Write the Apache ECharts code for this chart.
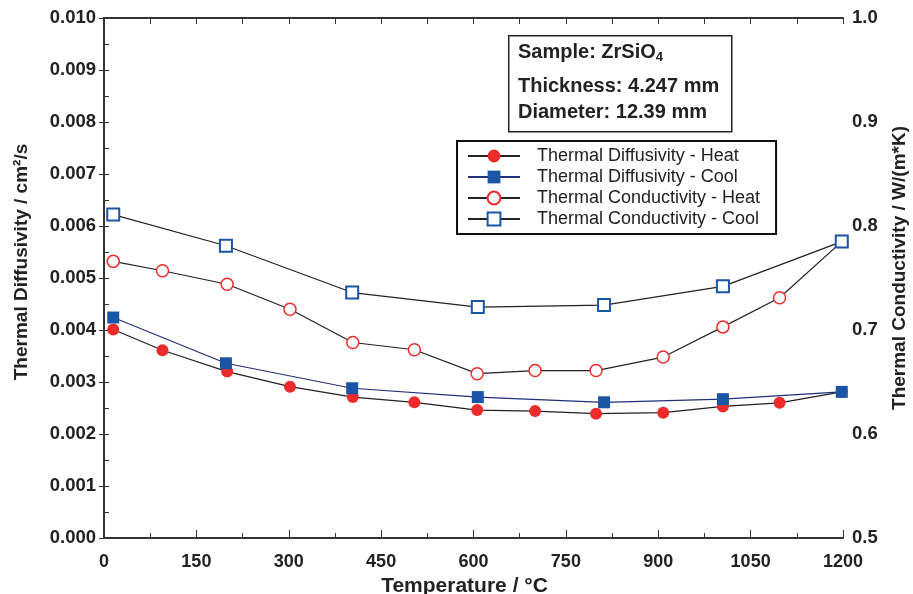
<!DOCTYPE html>
<html>
<head>
<meta charset="utf-8">
<script src="https://cdn.jsdelivr.net/npm/echarts@6.0.0/dist/echarts.min.js"></script>
<style>
  html, body { margin: 0; padding: 0; background: #fff; }
  #chart { width: 913px; height: 594px; }
</style>
</head>
<body>
<div id="chart"></div>
<script>
// heating run: temperature (°C), diffusivity (cm²/s), conductivity (W/(m*K))
const heatTemps = [15, 95, 200, 302, 404, 504, 606, 700, 799, 908, 1005, 1097, 1198]
const diffHeat = [0.00401, 0.00361, 0.00320, 0.00291, 0.00271, 0.00261, 0.00246, 0.00244, 0.00239, 0.00241, 0.00253, 0.00260, 0.00281]
const condHeat = [0.766, 0.757, 0.744, 0.720, 0.688, 0.681, 0.658, 0.661, 0.661, 0.674, 0.703, 0.731, 0.785]

// cooling run
const coolTemps = [15, 198, 403, 607, 812, 1005, 1198]
const diffCool = [0.00424, 0.00336, 0.00288, 0.00271, 0.00261, 0.00267, 0.00281]
const condCool = [0.811, 0.781, 0.736, 0.722, 0.724, 0.742, 0.785]

const seriesNames = [
  'Thermal Diffusivity - Heat',
  'Thermal Diffusivity - Cool',
  'Thermal Conductivity - Heat',
  'Thermal Conductivity - Cool'
]
const infoLines = ['Sample: ZrSiO', 'Thickness: 4.247 mm', 'Diameter: 12.39 mm']

const pairs = (xs, ys) => xs.map((x, i) => [x, ys[i]])

const FONT = '"Liberation Sans", Arial, sans-serif'
const AXIS = '#333'
const RED = '#ee2b2b'
const BLUE = '#1a55a6'

const chart = echarts.init(document.getElementById('chart'))

const axisLine = { show: true, lineStyle: { color: AXIS, width: 2 } }
const tickStyle = { color: AXIS, width: 1 }
const boldText = { fontFamily: FONT, fontWeight: 'bold', color: '#222' }

const option = {
  animation: false,
  backgroundColor: '#fff',
  grid: { left: 104, right: 70, top: 18, bottom: 56, containLabel: false, outerBoundsMode: 'none' },
  legend: {
    orient: 'vertical',
    left: 457,
    top: 141,
    data: seriesNames,
    borderColor: '#111',
    borderWidth: 2,
    padding: [6, 16, 6, 10],
    itemWidth: 52,
    itemHeight: 16,
    itemGap: 3,
    textStyle: {
      fontFamily: FONT,
      fontSize: 18,
      lineHeight: 16,
      color: '#222',
      padding: [0, 0, 0, 12]
    }
  },
  xAxis: [
    {
      type: 'value',
      position: 'bottom',
      min: 0,
      max: 1200,
      interval: 150,
      name: 'Temperature / °C',
      nameLocation: 'middle',
      nameGap: 34,
      nameTextStyle: Object.assign({ fontSize: 21, padding: [0, 18, 0, 0] }, boldText),
      axisLine: axisLine,
      axisTick: { show: true, inside: true, length: 8, lineStyle: tickStyle },
      minorTick: { show: true, splitNumber: 2, length: 5, lineStyle: tickStyle },
      splitLine: { show: false },
      axisLabel: Object.assign({ fontSize: 18, margin: 15, formatter: v => String(v) }, boldText)
    },
    {
      type: 'value',
      position: 'top',
      min: 0,
      max: 1200,
      interval: 75,
      axisLine: axisLine,
      axisTick: { show: true, inside: true, length: 6, lineStyle: tickStyle },
      axisLabel: { show: false },
      splitLine: { show: false }
    }
  ],
  yAxis: [
    {
      type: 'value',
      position: 'left',
      min: 0,
      max: 0.01,
      interval: 0.001,
      name: 'Thermal Diffusivity / cm²/s',
      nameLocation: 'middle',
      nameRotate: 90,
      nameGap: 73,
      nameTextStyle: Object.assign({ fontSize: 19, padding: [0, 0, 0, 32] }, boldText),
      axisLine: axisLine,
      axisTick: { show: true, inside: true, length: 5, lineStyle: tickStyle },
      minorTick: { show: true, splitNumber: 2, length: 5, lineStyle: tickStyle },
      splitLine: { show: false },
      axisLabel: Object.assign({ fontSize: 18.5, margin: 8, formatter: v => v.toFixed(3) }, boldText)
    },
    {
      type: 'value',
      position: 'right',
      min: 0.5,
      max: 1.0,
      interval: 0.1,
      name: 'Thermal Conductivity / W/(m*K)',
      nameLocation: 'middle',
      nameRotate: 90,
      nameGap: 47,
      nameTextStyle: Object.assign({ fontSize: 19, padding: [0, 0, 0, 20] }, boldText),
      axisLine: axisLine,
      axisTick: { show: true, inside: true, length: 5, lineStyle: tickStyle },
      minorTick: { show: true, splitNumber: 2, length: 5, lineStyle: tickStyle },
      splitLine: { show: false },
      axisLabel: Object.assign({ fontSize: 18.5, margin: 9, formatter: v => v.toFixed(1) }, boldText)
    }
  ],
  graphic: [
    {
      type: 'rect',
      left: 508,
      top: 35,
      shape: { width: 223, height: 96 },
      style: { fill: '#fff', stroke: '#222', lineWidth: 1.5 },
      z: 10
    },
    {
      type: 'text',
      x: 518,
      y: 52,
      z: 11,
      style: {
        text: '{b|' + infoLines[0] + '}{s|4}',
        verticalAlign: 'middle',
        rich: {
          b: { fontFamily: FONT, fontSize: 20, fontWeight: 'bold', fill: '#222' },
          s: { fontFamily: FONT, fontSize: 13, fontWeight: 'bold', fill: '#222', padding: [11, 0, 0, 0] }
        }
      }
    },
    {
      type: 'text',
      x: 518,
      y: 86,
      z: 11,
      style: { text: infoLines[1], verticalAlign: 'middle', fontFamily: FONT, fontSize: 20, fontWeight: 'bold', fill: '#222' }
    },
    {
      type: 'text',
      x: 518,
      y: 112,
      z: 11,
      style: { text: infoLines[2], verticalAlign: 'middle', fontFamily: FONT, fontSize: 20, fontWeight: 'bold', fill: '#222' }
    }
  ],
  series: [
    {
      name: seriesNames[0],
      type: 'line',
      xAxisIndex: 0,
      yAxisIndex: 0,
      data: pairs(heatTemps, diffHeat),
      symbol: 'circle',
      symbolSize: 12,
      itemStyle: { color: RED },
      lineStyle: { color: '#222', width: 1.2 },
      z: 4
    },
    {
      name: seriesNames[1],
      type: 'line',
      xAxisIndex: 0,
      yAxisIndex: 0,
      data: pairs(coolTemps, diffCool),
      symbol: 'rect',
      symbolSize: 12,
      itemStyle: { color: BLUE },
      lineStyle: { color: '#1f2f7a', width: 1.2 },
      z: 5
    },
    {
      name: seriesNames[2],
      type: 'line',
      xAxisIndex: 0,
      yAxisIndex: 1,
      data: pairs(heatTemps, condHeat),
      symbol: 'circle',
      symbolSize: 12,
      itemStyle: { color: '#fff', borderColor: RED, borderWidth: 1.5 },
      lineStyle: { color: '#222', width: 1.2 },
      z: 4
    },
    {
      name: seriesNames[3],
      type: 'line',
      xAxisIndex: 0,
      yAxisIndex: 1,
      data: pairs(coolTemps, condCool),
      symbol: 'rect',
      symbolSize: 12,
      itemStyle: { color: '#fff', borderColor: BLUE, borderWidth: 2 },
      lineStyle: { color: '#222', width: 1.2 },
      z: 5
    }
  ]
}

chart.setOption(option)
</script>
</body>
</html>
